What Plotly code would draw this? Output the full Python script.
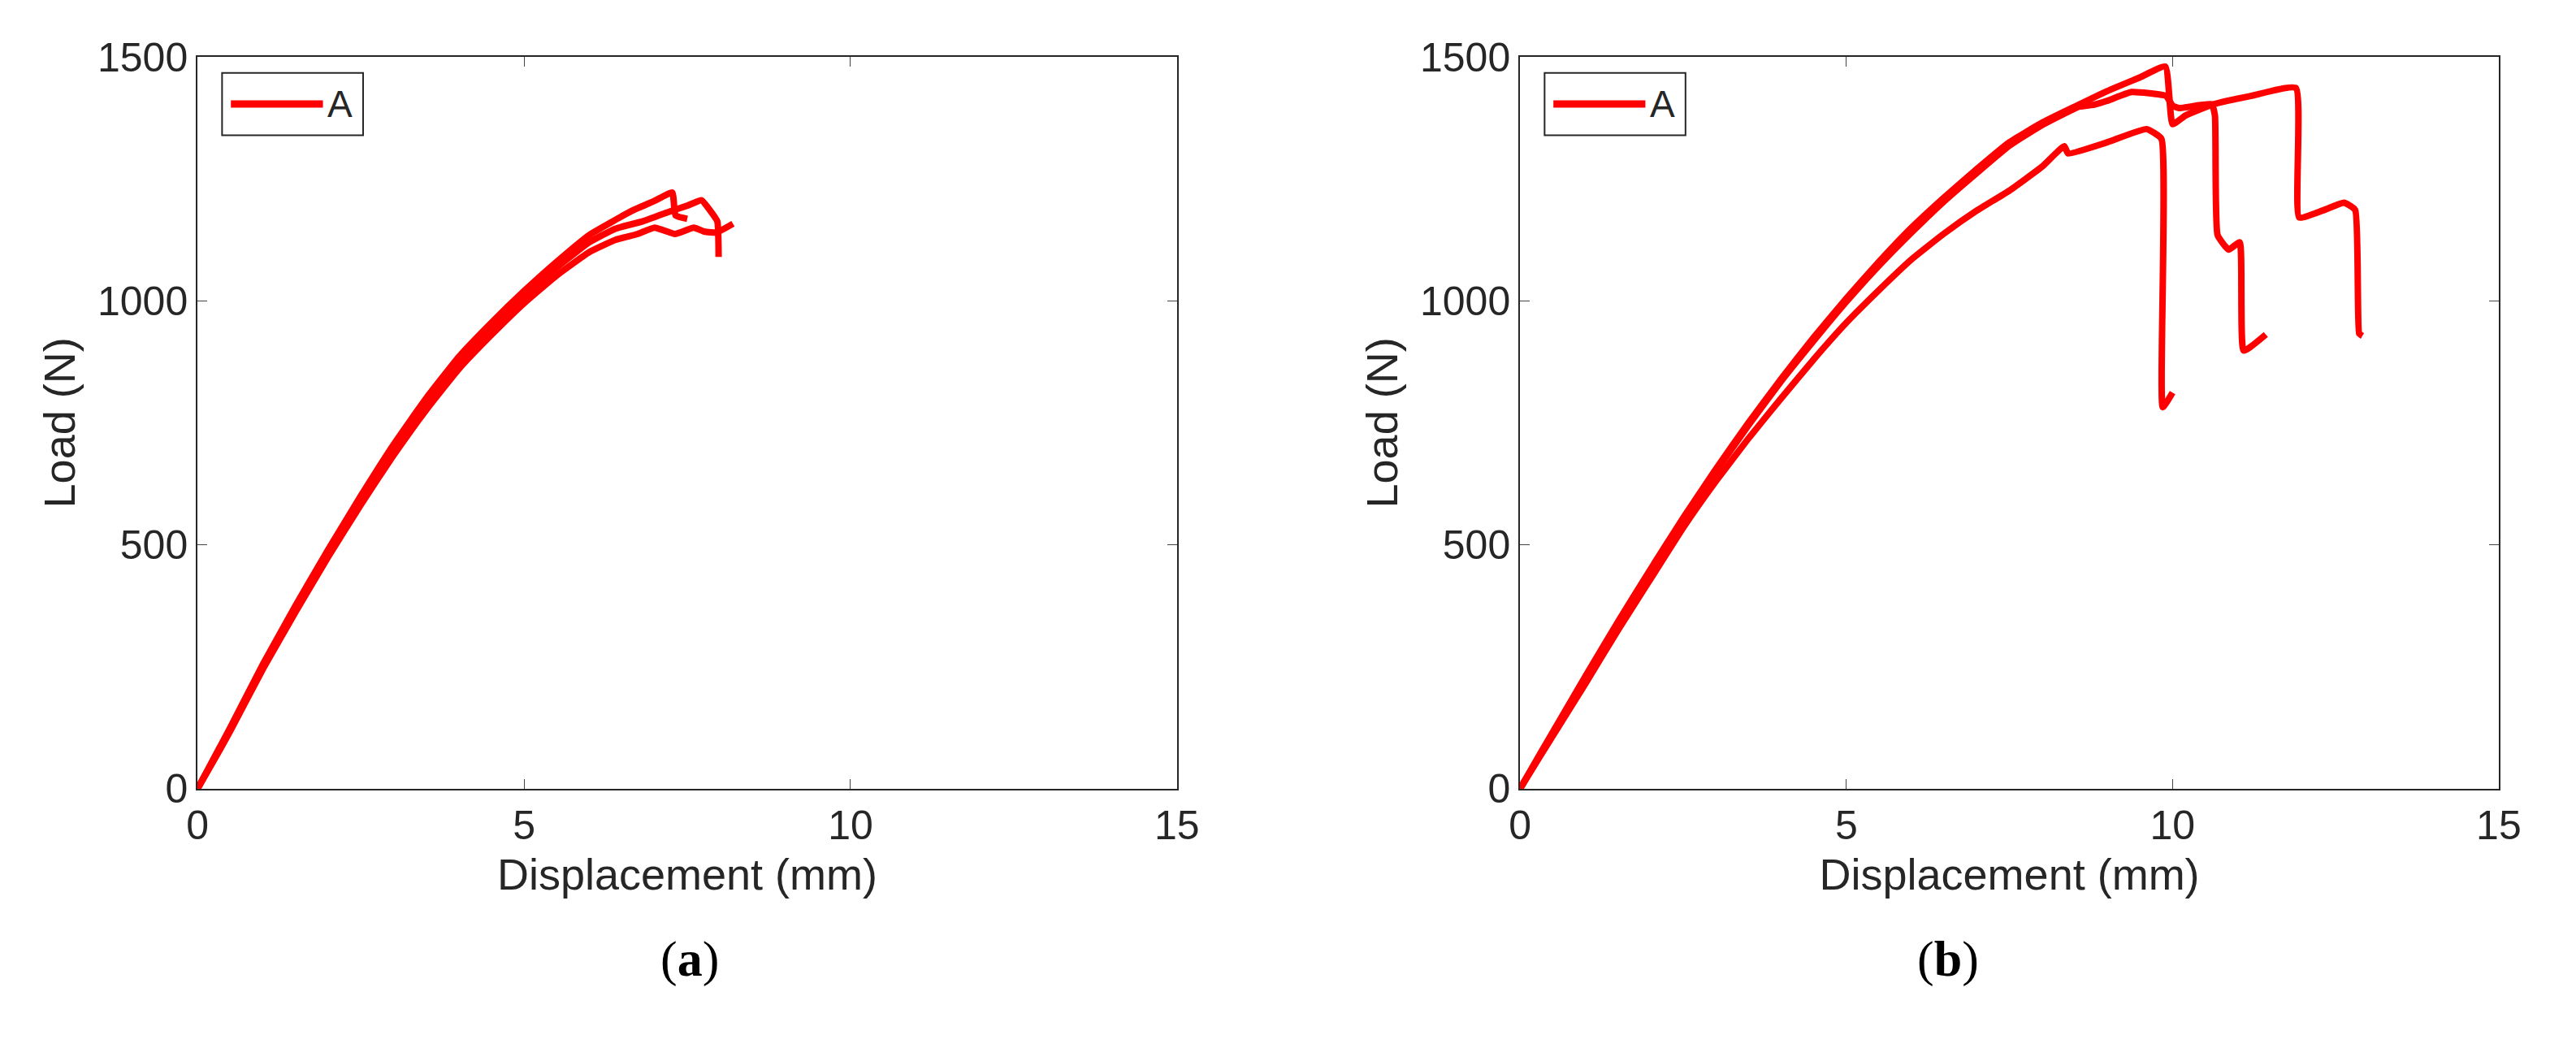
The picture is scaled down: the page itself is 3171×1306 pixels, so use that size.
import plotly.graph_objects as go

# Panel (a)
a1_x = [0, 0.3, 0.5, 1, 1.5, 2, 2.5, 3, 3.5, 4, 4.5, 5, 5.5, 6, 6.66, 7.0, 7.27, 7.32, 7.5]
a1_y = [0, 75, 125, 255, 375, 490, 600, 705, 800, 885, 955, 1020, 1080, 1135, 1185, 1205, 1222, 1175, 1168]
a2_x = [0, 0.3, 0.5, 1, 1.5, 2, 2.5, 3, 3.5, 4, 4.5, 5, 5.5, 6, 6.4, 6.82, 7.27, 7.5, 7.72, 7.85, 7.96, 7.98]
a2_y = [0, 72, 122, 250, 370, 483, 592, 695, 790, 875, 945, 1008, 1068, 1120, 1148, 1163, 1185, 1195, 1206, 1185, 1163, 1090]
a3_x = [0, 0.3, 0.5, 1, 1.5, 2, 2.5, 3, 3.5, 4, 4.5, 5, 5.5, 6, 6.4, 6.74, 7.0, 7.31, 7.6, 7.76, 7.95, 8.2]
a3_y = [0, 70, 118, 245, 362, 475, 582, 683, 776, 860, 930, 995, 1052, 1100, 1125, 1137, 1150, 1137, 1150, 1142, 1140, 1158]

# Panel (b)
b1_x = [0, 0.3, 1, 1.5, 2, 2.5, 3, 3.5, 4, 4.5, 5, 5.5, 6, 6.5, 7, 7.5, 8, 8.5, 9, 9.5, 9.89, 10.0, 10.2, 10.63, 11.2, 11.89, 11.94, 12.3, 12.63, 12.8, 12.86, 12.91]
b1_y = [0, 70, 230, 342, 450, 555, 655, 750, 840, 925, 1005, 1080, 1150, 1212, 1270, 1325, 1365, 1398, 1430, 1458, 1480, 1362, 1380, 1403, 1420, 1436, 1171, 1185, 1201, 1186, 933, 928]
b2_x = [0, 0.3, 1, 1.5, 2, 2.5, 3, 3.5, 4, 4.5, 5, 5.5, 6, 6.5, 7, 7.5, 8, 8.57, 8.8, 9.0, 9.37, 9.9, 10.0, 10.1, 10.6, 10.65, 10.69, 10.86, 11.03, 11.09, 11.43]
b2_y = [0, 68, 226, 338, 445, 550, 650, 745, 835, 918, 998, 1072, 1140, 1204, 1262, 1318, 1360, 1398, 1402, 1410, 1428, 1420, 1400, 1395, 1403, 1380, 1135, 1105, 1120, 898, 931]
b3_x = [0, 0.3, 1, 1.5, 2, 2.5, 3, 3.5, 4, 4.5, 5, 5.5, 6, 6.5, 7, 7.5, 8, 8.34, 8.4, 9, 9.6, 9.83, 9.85, 10.0]
b3_y = [0, 65, 215, 325, 430, 535, 630, 718, 800, 880, 955, 1022, 1085, 1138, 1185, 1226, 1275, 1317, 1302, 1325, 1352, 1332, 782, 812]

x_ticks = [0, 5, 10, 15]
y_ticks = [0, 500, 1000, 1500]
legend_label = "A"
captions = ["a", "b"]

RED = "#ff0000"
TXT = "#262626"
fig = go.Figure()
series = [("x", "y", [(a1_x, a1_y), (a2_x, a2_y), (a3_x, a3_y)]),
          ("x2", "y2", [(b1_x, b1_y), (b2_x, b2_y), (b3_x, b3_y)])]
for xa, ya, curves in series:
    for xs, ys in curves:
        fig.add_trace(go.Scatter(x=xs, y=ys, xaxis=xa, yaxis=ya, mode="lines",
                                 line=dict(color=RED, width=8, shape="spline", smoothing=0.4),
                                 name=legend_label, showlegend=False))

axis_common = dict(range=[0, 15], tickvals=x_ticks, ticks="inside", ticklen=12,
                   showgrid=False, zeroline=False, showline=True, linecolor=TXT,
                   linewidth=2, mirror="ticks", tickfont=dict(size=50, color=TXT),
                   title=dict(text="Displacement (mm)", font=dict(size=54, color=TXT), standoff=14))
yaxis_common = dict(range=[0, 1500], tickvals=y_ticks, ticks="inside", ticklen=12,
                    showgrid=False, zeroline=False, showline=True, linecolor=TXT,
                    linewidth=2, mirror="ticks", tickfont=dict(size=50, color=TXT),
                    title=dict(text="Load (N)", font=dict(size=54, color=TXT), standoff=10))

fig.update_layout(
    width=3171, height=1306, paper_bgcolor="white", plot_bgcolor="white",
    margin=dict(l=0, r=0, t=0, b=0),
    font=dict(family="Liberation Sans, Arial", color=TXT),
    xaxis=dict(domain=[0.0707, 0.456], anchor="y", **axis_common),
    yaxis=dict(domain=[0.252, 0.972], anchor="x", **yaxis_common),
    xaxis2=dict(domain=[0.591, 0.976], anchor="y2", **axis_common),
    yaxis2=dict(domain=[0.252, 0.972], anchor="x2", **yaxis_common),
    showlegend=False,
)

for xd, yd in [("x domain", "y domain"), ("x2 domain", "y2 domain")]:
    fig.add_shape(type="rect", xref=xd, yref=yd, x0=0.025, x1=0.169, y0=0.893, y1=0.978,
                  line=dict(color=TXT, width=2), fillcolor="white")
    fig.add_shape(type="line", xref=xd, yref=yd, x0=0.034, x1=0.128, y0=0.9355, y1=0.9355,
                  line=dict(color=RED, width=9))
    fig.add_annotation(xref=xd, yref=yd, x=0.131, y=0.9355, text=legend_label, showarrow=False,
                       xanchor="left", yanchor="middle", font=dict(size=46, color=TXT))

for cx, c in zip([0.252, 0.772], captions):
    fig.add_annotation(xref="paper", yref="paper", x=cx, y=0.055, showarrow=False,
                       text="(<b>%s</b>)" % c,
                       font=dict(family="Liberation Serif, Times New Roman", size=62, color="black"))

fig.write_html("out.html")
